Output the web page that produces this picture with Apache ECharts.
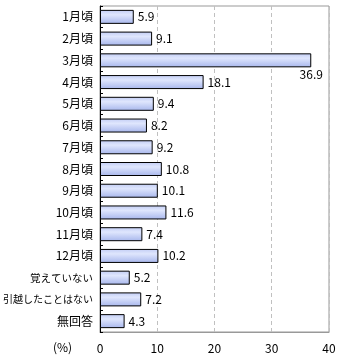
<!DOCTYPE html>
<html>
<head>
<meta charset="utf-8">
<script src="https://cdn.jsdelivr.net/npm/echarts@6/dist/echarts.min.js"></script>
<style>html,body{margin:0;padding:0;background:#fff;}#c{width:340px;height:360px;}</style>
</head>
<body>
<div id="c"></div>
<script>
const categories = ['1月頃','2月頃','3月頃','4月頃','5月頃','6月頃','7月頃','8月頃','9月頃','10月頃','11月頃','12月頃','覚えていない','引越したことはない','無回答'];
const values = [5.9, 9.1, 36.9, 18.1, 9.4, 8.2, 9.2, 10.8, 10.1, 11.6, 7.4, 10.2, 5.2, 7.2, 4.3];
const xTicks = [0, 10, 20, 30, 40];
const unitLabel = '(%)';

const FONT = '"Noto Sans CJK JP", sans-serif';
const chart = echarts.init(document.getElementById('c'), null, {renderer: 'canvas'});
const maxIdx = values.indexOf(Math.max(...values));
const barColor = new echarts.graphic.LinearGradient(0, 0, 0, 1, [
  {offset: 0, color: '#c2cdf5'},
  {offset: 0.35, color: '#dfe6fd'},
  {offset: 1, color: '#a7b6ec'}
]);
chart.setOption({
  animation: false,
  grid: {left: 97, right: 11, top: 6, bottom: 28, show: true, borderColor: '#999', borderWidth: 1},
  xAxis: {
    type: 'value', min: xTicks[0], max: xTicks[xTicks.length - 1], interval: 10,
    axisLine: {show: true, lineStyle: {color: '#999'}},
    axisTick: {show: false},
    axisLabel: {color: '#000', fontSize: 12, fontFamily: FONT, margin: 10},
    splitLine: {show: true, lineStyle: {color: '#c0c0c0', type: [4, 3]}}
  },
  yAxis: {
    type: 'category', data: categories, inverse: true,
    axisLine: {show: true, lineStyle: {color: '#000', width: 1}},
    axisTick: {show: true, inside: true, length: 3, lineStyle: {color: '#000'}},
    axisLabel: {
      color: '#000', fontSize: 12, fontFamily: FONT, margin: 7,
      formatter: function (v) {
        if (v.length > 6) return '{s|' + v + '}';
        if (v.length === 6) return '{m|' + v + '}';
        return v;
      },
      rich: {
        s: {fontSize: 10, fontFamily: FONT, color: '#000'},
        m: {fontSize: 10.5, fontFamily: FONT, color: '#000'}
      }
    }
  },
  graphic: [{
    type: 'text', left: 53, top: 341,
    style: {text: unitLabel, fontSize: 12, fontFamily: FONT, fill: '#000'}
  }],
  series: [{
    type: 'bar', barWidth: 14,
    data: values.map(function (v, i) {
      const d = {value: v};
      if (i === maxIdx) {
        d.label = {position: ['100%', '100%'], align: 'center', verticalAlign: 'top', offset: [0, 1], distance: 0};
      }
      return d;
    }),
    itemStyle: {color: barColor, borderColor: '#000', borderWidth: 1},
    label: {show: true, position: 'right', distance: 4, color: '#000', fontSize: 12, fontFamily: FONT}
  }]
});
</script>
</body>
</html>
